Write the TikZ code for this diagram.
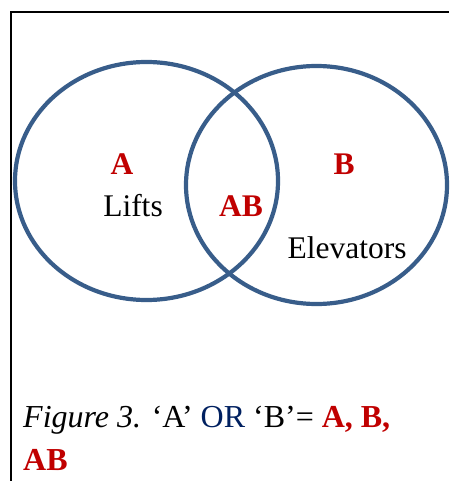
\documentclass[tikz,border=0pt]{standalone}
\usepackage{fontspec}
\setmainfont{Liberation Serif}
\usepackage{tikz}

\definecolor{ringblue}{RGB}{56,93,138}
\definecolor{setred}{RGB}{192,0,0}
\definecolor{orblue}{RGB}{0,32,96}

\begin{document}
\begin{tikzpicture}[x=1pt, y=-1pt,
    ring/.style={ringblue, line width=4.2pt},
    setlabel/.style={setred, font=\fontsize{31.5}{36}\selectfont\bfseries, anchor=base},
    namelabel/.style={font=\fontsize{31.5}{36}\selectfont, anchor=base}]
    \useasboundingbox (0,0) rectangle (449,481);

    \draw[line width=1.3pt] (11,481) -- (11,12) -- (449,12);

    \draw[ring] (146.5,181) ellipse [x radius=131.5, y radius=119];
    \draw[ring] (316.5,185) ellipse [x radius=130.5, y radius=119];

    \node[setlabel] (setA) at (122,175) {A};
    \node[setlabel] (setB) at (344,175) {B};
    \node[setlabel] (setAB) at (241,216) {AB};
    \node[namelabel] (lifts) at (133,216) {Lifts};
    \node[namelabel] (elev) at (347,258) {Elevators};

    % base anchor sits on the last line
    \node[font=\fontsize{32}{43}\selectfont, anchor=base west, align=left, inner sep=0pt] (caption) at (23,470)
        {\itshape Figure 3.\upshape{} ‘A’ {\color{orblue}OR} ‘B’= {\color{setred}\bfseries A, B,}\\
         {\color{setred}\bfseries AB}};

\end{tikzpicture}
\end{document}
